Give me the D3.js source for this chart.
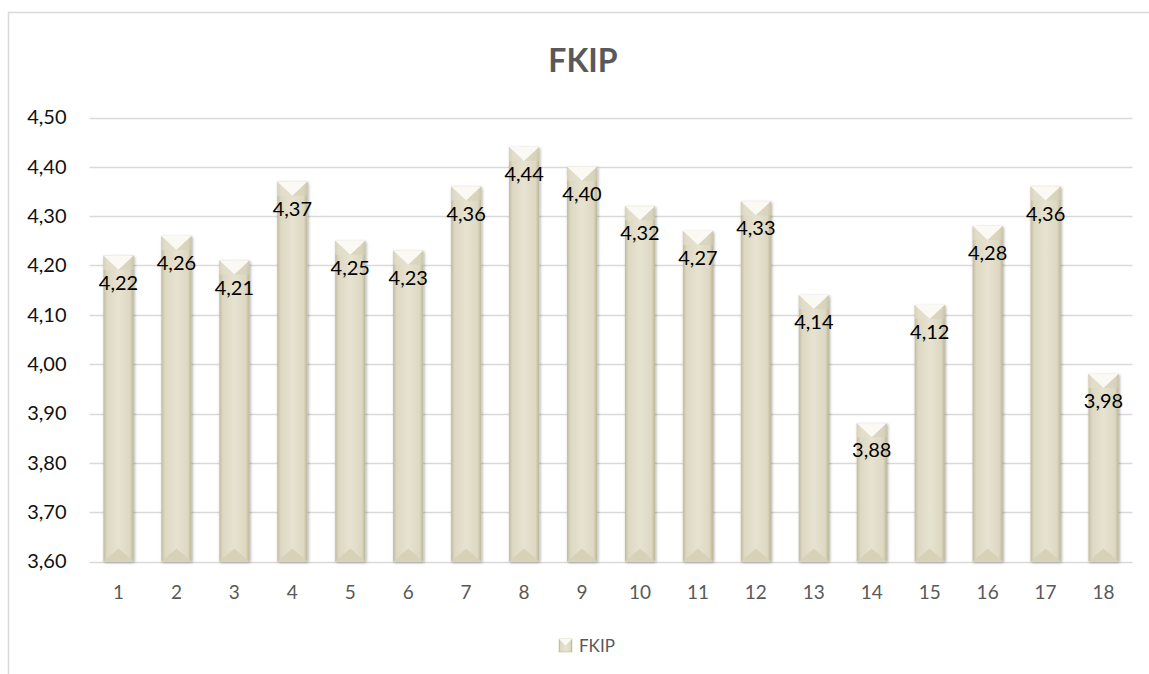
<!DOCTYPE html>
<html>
<head>
<meta charset="utf-8">
<script src="https://cdn.jsdelivr.net/npm/d3@7"></script>
<style>
  body { margin: 0; background: #fff; }
  svg { font-family: Lato, "Open Sans", sans-serif; }
</style>
</head>
<body>
<div class="chart"></div>
<script>
// data
var categories = ["1","2","3","4","5","6","7","8","9","10","11","12","13","14","15","16","17","18"];
var values = [4.22, 4.26, 4.21, 4.37, 4.25, 4.23, 4.36, 4.44, 4.40, 4.32, 4.27, 4.33, 4.14, 3.88, 4.12, 4.28, 4.36, 3.98];
var yTicks = [3.60, 3.70, 3.80, 3.90, 4.00, 4.10, 4.20, 4.30, 4.40, 4.50];
var seriesName = "FKIP";

(function () {
var W = 1149, H = 674;
var plotLeft = 89.5, plotRight = 1132.5, plotTop = 117.5, plotBottom = 561.5;

var fmt = function (v) { return d3.format(".2f")(v).replace(".", ","); };

var svg = d3.select('.chart')
    .append('svg')
    .attr('width', W)
    .attr('height', H);

var defs = svg.append('defs');
var grad = defs.append('linearGradient').attr('id', 'barGrad')
    .attr('x1', '0%').attr('x2', '100%').attr('y1', '0%').attr('y2', '0%');
grad.append('stop').attr('offset', '0%').attr('stop-color', '#c2bc9c');
grad.append('stop').attr('offset', '12%').attr('stop-color', '#dcd8c2');
grad.append('stop').attr('offset', '50%').attr('stop-color', '#e7e3d1');
grad.append('stop').attr('offset', '88%').attr('stop-color', '#dcd8c2');
grad.append('stop').attr('offset', '100%').attr('stop-color', '#bdb797');

var shadow = defs.append('filter').attr('id', 'shadow')
    .attr('x', '-30%').attr('y', '-10%').attr('width', '160%').attr('height', '120%');
shadow.append('feDropShadow').attr('dx', 1).attr('dy', 1).attr('stdDeviation', 1.5)
    .attr('flood-color', '#000').attr('flood-opacity', 0.35);

// chart frame
svg.append('rect')
    .attr('x', 8.5).attr('y', 12.5)
    .attr('width', 1160).attr('height', 700)
    .attr('fill', 'none').attr('stroke', '#d9d9d9').attr('stroke-width', 1.5);

var x = d3.scaleBand().domain(categories).range([plotLeft, plotRight]).padding(0);
var y = d3.scaleLinear().domain([3.6, 4.5]).range([plotBottom, plotTop]);
var bw = x.bandwidth() * 0.52;

// gridlines
svg.append('g').selectAll('line')
    .data(yTicks)
    .enter()
    .append('line')
    .attr('x1', plotLeft).attr('x2', plotRight)
    .attr('y1', function (d) { return Math.round(y(d)) + 0.5; })
    .attr('y2', function (d) { return Math.round(y(d)) + 0.5; })
    .attr('stroke', '#d9d9d9').attr('stroke-width', 1.3);

// y axis labels
var yAxis = d3.axisLeft(y).tickValues(yTicks).tickSize(0).tickPadding(23).tickFormat(fmt);
var yg = svg.append('g').attr('transform', 'translate(' + plotLeft + ',0)').call(yAxis);
yg.select('.domain').remove();
yg.selectAll('text').attr('font-size', 20).attr('fill', '#111').attr('font-family', 'Lato, sans-serif');

// x axis labels
var xAxis = d3.axisBottom(x).tickSize(0).tickPadding(24);
var xg = svg.append('g').attr('transform', 'translate(0,' + plotBottom + ')').call(xAxis);
xg.select('.domain').remove();
xg.selectAll('text').attr('font-size', 19).attr('fill', '#595959').attr('font-family', 'Lato, sans-serif');

// bars
var barG = svg.append('g').selectAll('g.bar')
    .data(values)
    .enter()
    .append('g')
    .attr('class', 'bar')
    .attr('transform', function (d, i) {
        return 'translate(' + (x(categories[i]) + x.bandwidth() / 2 - bw / 2) + ',0)';
    });

barG.append('rect')
    .attr('x', 0)
    .attr('y', function (d) { return y(d); })
    .attr('width', bw)
    .attr('height', function (d) { return plotBottom - y(d); })
    .attr('fill', 'url(#barGrad)')
    .attr('filter', 'url(#shadow)');

// top bevel
barG.append('path')
    .attr('d', function (d) {
        var t = y(d);
        return 'M0,' + t + 'L' + bw + ',' + t + 'L' + (bw / 2) + ',' + (t + 14) + 'Z';
    })
    .attr('fill', '#faf9f3');
barG.append('path')
    .attr('d', function (d) {
        var t = y(d);
        return 'M0,' + t + 'L' + (bw / 2) + ',' + (t + 14) + 'L0,' + (t + 14) + 'Z';
    })
    .attr('fill', '#e4e0cd').attr('opacity', 0.6);
barG.append('path')
    .attr('d', function (d) {
        var t = y(d);
        return 'M' + bw + ',' + t + 'L' + (bw / 2) + ',' + (t + 14) + 'L' + bw + ',' + (t + 14) + 'Z';
    })
    .attr('fill', '#d6d1b8').attr('opacity', 0.6);

// bottom bevel
barG.append('path')
    .attr('d', function () {
        return 'M0,' + plotBottom + 'L' + bw + ',' + plotBottom + 'L' + (bw / 2) + ',' + (plotBottom - 13) + 'Z';
    })
    .attr('fill', '#d6d1b7');

// data labels
barG.append('text')
    .attr('x', bw / 2)
    .attr('y', function (d) { return y(d) + 34; })
    .attr('text-anchor', 'middle')
    .attr('font-size', 20)
    .attr('fill', '#000')
    .text(function (d) { return fmt(d); });

// title
svg.append('text')
    .attr('x', 583).attr('y', 72)
    .attr('text-anchor', 'middle')
    .attr('font-size', 32).attr('font-weight', 'bold')
    .attr('fill', '#595959')
    .text(seriesName);

// legend
var lg = svg.append('g').attr('class', 'legend').attr('transform', 'translate(559,639)');
lg.append('rect')
    .attr('width', 13).attr('height', 13)
    .attr('fill', 'url(#barGrad)').attr('stroke', '#bdb797').attr('stroke-width', 0.5);
lg.append('path').attr('d', 'M0,0L13,0L6.5,6.5Z').attr('fill', '#faf9f3');
lg.append('text')
    .attr('x', 20).attr('y', 13)
    .attr('font-size', 17).attr('fill', '#595959')
    .text(seriesName);
})();
</script>
</body>
</html>
